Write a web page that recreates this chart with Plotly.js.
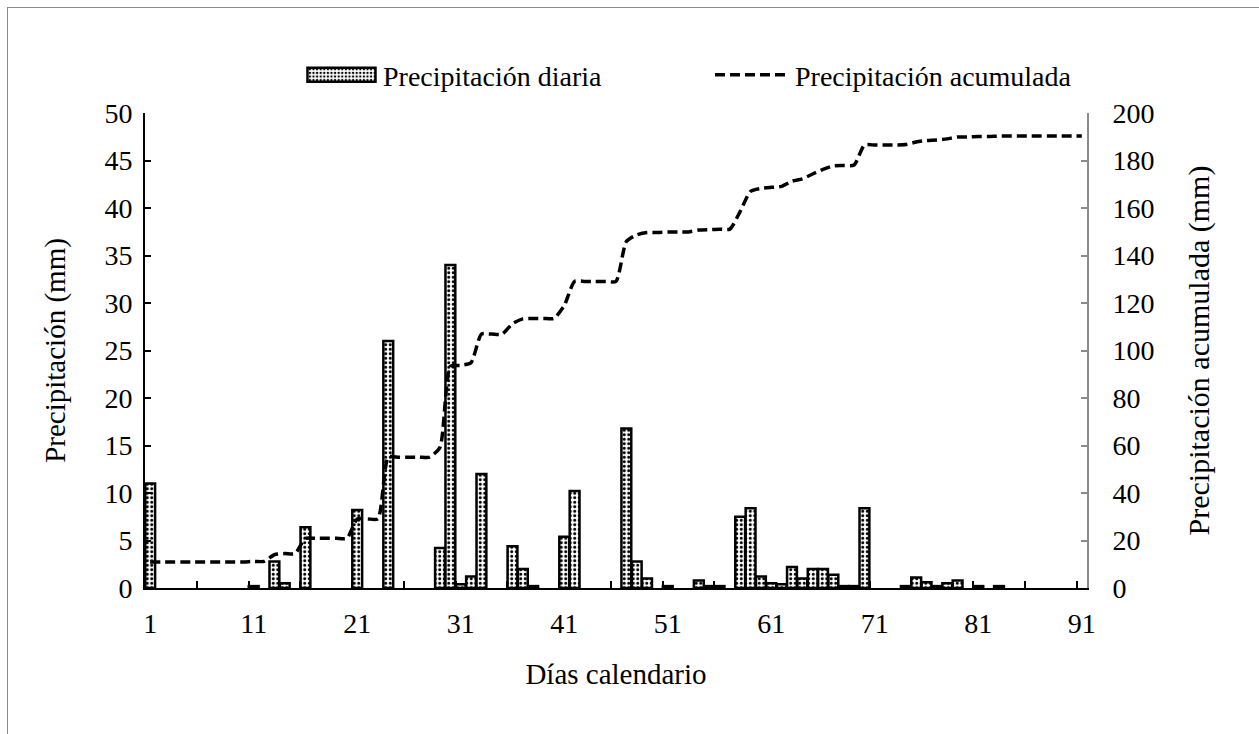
<!DOCTYPE html>
<html>
<head>
<meta charset="utf-8">
<script src="https://cdn.plot.ly/plotly-3.0.1.min.js"></script>
<style>
  html, body { margin: 0; padding: 0; background: #fff; overflow: hidden; }
  #chart { width: 1259px; height: 734px; }
  #chart svg text { font-family: "Liberation Serif", serif !important; }
  #frame { position: absolute; left: 7px; top: 7px; width: 1300px; height: 800px; border: 1px solid #8a8a8a; pointer-events: none; }
</style>
</head>
<body>
<div id="chart"></div>
<div id="frame"></div>
<script>
// ---- data ----
const rainDays = [1, 11, 13, 14, 16, 21, 24, 29, 30, 31, 32, 33, 36, 37, 38, 41, 42, 47, 48, 49, 51, 54, 55, 56,
                  58, 59, 60, 61, 62, 63, 64, 65, 66, 67, 68, 69, 70, 74, 75, 76, 77, 78, 79, 81, 83];
const rainDaily = [11, 0.2, 2.8, 0.5, 6.4, 8.2, 26, 4.2, 34, 0.4, 1.2, 12, 4.4, 2.0, 0.2, 5.4, 10.2, 16.8, 2.8, 1.0, 0.2, 0.8, 0.2, 0.2,
                   7.5, 8.4, 1.2, 0.5, 0.4, 2.2, 1.0, 2.0, 2.0, 1.4, 0.2, 0.2, 8.4, 0.2, 1.1, 0.6, 0.2, 0.5, 0.8, 0.2, 0.2];

const calendarDays = [1,2,3,4,5,6,7,8,9,10,11,12,13,14,15,16,17,18,19,20,21,22,23,24,25,26,27,28,29,30,
                      31,32,33,34,35,36,37,38,39,40,41,42,43,44,45,46,47,48,49,50,51,52,53,54,55,56,57,58,59,60,
                      61,62,63,64,65,66,67,68,69,70,71,72,73,74,75,76,77,78,79,80,81,82,83,84,85,86,87,88,89,90,91];
const cumulative = [11,11,11,11,11,11,11,11,11,11, 11.2,11.2,14.0,14.5,14.5,20.9,20.9,20.9,20.9,20.9,
                    29.1,29.1,29.1,55.1,55.1,55.1,55.1,55.1,59.3,93.3, 93.7,94.9,106.9,106.9,106.9,111.3,113.3,113.5,113.5,113.5,
                    118.9,129.1,129.1,129.1,129.1,129.1,145.9,148.7,149.7,149.7, 149.9,149.9,149.9,150.7,150.9,151.1,151.1,158.6,167.0,168.2,
                    168.7,169.1,171.3,172.3,174.3,176.3,177.7,177.9,178.1,186.5, 186.5,186.5,186.5,186.7,187.8,188.4,188.6,189.1,189.9,189.9,
                    190.1,190.1,190.3,190.3,190.3,190.3,190.3,190.3,190.3,190.3,190.3];

const xTickLabels = ['1', '11', '21', '31', '41', '51', '61', '71', '81', '91'];
const seriesNames = ['Precipitación diaria', 'Precipitación acumulada'];
const axisTitles = { x: 'Días calendario', y: 'Precipitación (mm)', y2: 'Precipitación acumulada (mm)' };

// ---- chart ----
const FONT = 'Liberation Serif';
const minorVals = [];
for (let v = 5.5; v < 91; v += 5) minorVals.push(v);

const bars = {
  type: 'bar',
  name: seriesNames[0],
  x: rainDays,
  y: rainDaily,
  width: 0.95,
  marker: {
    color: 'white',
    line: { color: 'black', width: 2.5 },
    pattern: { shape: '.', fgcolor: 'black', bgcolor: 'white', size: 4.5, solidity: 0.35, fillmode: 'replace' }
  },
  yaxis: 'y'
};

const line = {
  type: 'scatter',
  mode: 'lines',
  name: seriesNames[1],
  x: calendarDays,
  y: cumulative,
  line: { color: 'black', width: 3.5, dash: '10px,5px', shape: 'spline', smoothing: 0.6 },
  yaxis: 'y2'
};

const layout = {
  width: 1259,
  height: 734,
  margin: { l: 145, r: 172, t: 113, b: 146 },
  paper_bgcolor: 'white',
  plot_bgcolor: 'white',
  font: { family: FONT, size: 28, color: 'black' },
  showlegend: true,
  legend: {
    orientation: 'h',
    x: 0.1624, xanchor: 'left',
    y: 1.08, yanchor: 'middle',
    font: { family: FONT, size: 28, color: 'black' },
    itemwidth: 75,
    entrywidth: 322,
    entrywidthmode: 'pixels',
    bgcolor: 'rgba(0,0,0,0)'
  },
  xaxis: {
    range: [0.5, 91.5],
    tickmode: 'array',
    tickvals: xTickLabels.map(Number),
    ticktext: xTickLabels,
    ticks: '',
    showline: true, linecolor: 'black', linewidth: 2,
    showgrid: false, zeroline: false,
    tickfont: { family: FONT, size: 28 },
    ticklabelstandoff: 9,
    minor: { tickmode: 'array', tickvals: minorVals, ticks: 'inside', ticklen: 7, tickwidth: 2, tickcolor: 'black', showgrid: false },
    title: { text: axisTitles.x, font: { family: FONT, size: 29 }, standoff: 26 },
    automargin: false
  },
  yaxis: {
    range: [0, 50],
    dtick: 5,
    ticks: 'inside', ticklen: 6, tickwidth: 2, tickcolor: 'black',
    showline: true, linecolor: 'black', linewidth: 2,
    showgrid: false, zeroline: false,
    tickfont: { family: FONT, size: 28 },
    ticklabelstandoff: 5,
    title: { text: axisTitles.y, font: { family: FONT, size: 29 }, standoff: 30 },
    automargin: false
  },
  yaxis2: {
    range: [0, 200],
    dtick: 20,
    overlaying: 'y',
    side: 'right',
    ticks: 'inside', ticklen: 6, tickwidth: 2, tickcolor: '#8c8c8c',
    showline: true, linecolor: '#8c8c8c', linewidth: 2,
    showgrid: false, zeroline: false,
    tickfont: { family: FONT, size: 28 },
    ticklabelstandoff: 18,
    title: { text: axisTitles.y2, font: { family: FONT, size: 30 }, standoff: 34 },
    automargin: false
  },
  bargap: 0.05
};

Plotly.newPlot('chart', [bars, line], layout, { staticPlot: true, displayModeBar: false }).then(function (gd) {
  // widen the bar legend swatch to the wide rectangle style of the original
  try {
    const traces = gd.querySelectorAll('.legend .traces');
    if (traces.length) {
      const paths = traces[0].querySelectorAll('.legendpoints path');
      paths.forEach(function (p) {
        p.setAttribute('d', 'M-33,7H35V-7H-33Z');
        p.style.strokeWidth = '2.5px';
        p.style.stroke = 'black';
      });
    }
  } catch (e) { /* keep default swatch */ }
});
</script>
</body>
</html>
